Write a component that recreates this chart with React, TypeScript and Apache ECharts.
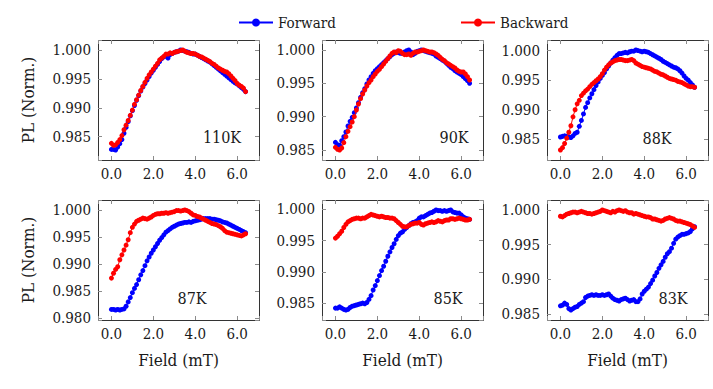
import React, { useEffect, useRef } from "react";
import * as echarts from "echarts";

// ---------- data ----------
const FIELD = [
  0.0, 0.1, 0.2, 0.3, 0.4, 0.5, 0.6, 0.7, 0.8, 0.9, 1.0, 1.1, 1.2, 1.3, 1.4, 1.5,
  1.6, 1.7, 1.8, 1.9, 2.0, 2.1, 2.2, 2.3, 2.4, 2.5, 2.6, 2.7, 2.8, 2.9, 3.0, 3.1,
  3.2, 3.3, 3.4, 3.5, 3.6, 3.7, 3.8, 3.9, 4.0, 4.1, 4.2, 4.3, 4.4, 4.5, 4.6, 4.7,
  4.8, 4.9, 5.0, 5.1, 5.2, 5.3, 5.4, 5.5, 5.6, 5.7, 5.8, 5.9, 6.0, 6.1, 6.2, 6.3, 6.4,
];

const FWD_110K = [
  0.9828, 0.9828, 0.9827, 0.9832, 0.9838, 0.9845, 0.9856, 0.9866, 0.9876, 0.9886, 0.9895, 0.9904, 0.9913,
  0.9921, 0.9929, 0.9936, 0.9942, 0.9948, 0.9954, 0.996, 0.9965, 0.997, 0.9975, 0.998, 0.9985, 0.9988,
  0.999, 0.9986, 0.9992, 0.9994, 0.9996, 0.9997, 0.9998, 1.0, 0.9999, 0.9998, 0.9997, 0.9996, 0.9994,
  0.9993, 0.9993, 0.9991, 0.9989, 0.9987, 0.9985, 0.9983, 0.9981, 0.9979, 0.9976, 0.9973, 0.997, 0.9967,
  0.9964, 0.9961, 0.9958, 0.9955, 0.9952, 0.9949, 0.9946, 0.9943, 0.9941, 0.9938, 0.9935, 0.9932, 0.9928,
];
const BWD_110K = [
  0.98386, 0.9835, 0.9836, 0.984, 0.9845, 0.9852, 0.9862, 0.987, 0.9878, 0.9887, 0.9896, 0.9906, 0.9914,
  0.9922, 0.993, 0.9937, 0.9944, 0.9951, 0.9957, 0.9962, 0.9967, 0.9972, 0.9977, 0.9983, 0.9986, 0.9989,
  0.9993, 0.9993, 0.9995, 0.9994, 0.9996, 0.9997, 0.9998, 0.9999, 1.0, 0.9998, 0.9996, 0.9995, 0.9994,
  0.9994, 0.9993, 0.9991, 0.9989, 0.9988, 0.9986, 0.9984, 0.9982, 0.998, 0.9977, 0.9975, 0.9972, 0.9969,
  0.9967, 0.9965, 0.9963, 0.9962, 0.9959, 0.9955, 0.9951, 0.9947, 0.9942, 0.9939, 0.9937, 0.9934, 0.9928,
];

const FWD_90K = [
  0.98615, 0.9858, 0.9857, 0.9864, 0.987, 0.9877, 0.9886, 0.9893, 0.9899, 0.9906, 0.9913, 0.9921, 0.9929,
  0.9936, 0.9942, 0.9949, 0.9955, 0.996, 0.9965, 0.9969, 0.9972, 0.9975, 0.9978, 0.9981, 0.9984, 0.9987,
  0.999, 0.9993, 0.9995, 0.9997, 0.9996, 0.9995, 0.9995, 0.9997, 0.9999, 1.0, 0.9997, 0.9993, 0.9995,
  0.9998, 0.9999, 1.0, 0.9999, 0.9998, 0.9997, 0.9996, 0.9995, 0.9994, 0.9991, 0.9989, 0.9987, 0.9985,
  0.9983, 0.998, 0.9977, 0.9974, 0.9972, 0.9969, 0.9967, 0.9965, 0.9963, 0.996, 0.9957, 0.9954, 0.995,
];
const BWD_90K = [
  0.9854, 0.9851, 0.985, 0.9853, 0.9861, 0.987, 0.9878, 0.9885, 0.9892, 0.99, 0.991, 0.9919, 0.9927,
  0.9934, 0.994, 0.9946, 0.9951, 0.9955, 0.996, 0.9964, 0.9968, 0.9971, 0.9975, 0.9979, 0.9983, 0.9987,
  0.9991, 0.9995, 0.9997, 0.9996, 0.9999, 0.9998, 0.9995, 0.9993, 0.9993, 0.9994, 0.9992, 0.9995, 0.9997,
  0.9997, 0.9998, 0.9999, 1.0, 0.9999, 0.9998, 0.9997, 0.9997, 0.9996, 0.9994, 0.9992, 0.9989, 0.9986,
  0.9984, 0.9981, 0.9979, 0.9977, 0.9975, 0.9973, 0.997, 0.9968, 0.9967, 0.9967, 0.9964, 0.996, 0.9955,
];

const FWD_88K = [
  0.9854, 0.9855, 0.9856, 0.9855, 0.9854, 0.9853, 0.9856, 0.986, 0.9862, 0.9872, 0.9882, 0.9893, 0.9904,
  0.9912, 0.992, 0.9927, 0.9934, 0.9941, 0.9947, 0.9953, 0.9958, 0.9963, 0.9969, 0.9974, 0.9979, 0.9984,
  0.9988, 0.9992, 0.9995, 0.9995, 0.9996, 0.9997, 0.9996, 0.9998, 0.9999, 0.9999, 1.0001, 1.0, 0.9999,
  0.9998, 0.9999, 0.9998, 0.9997, 0.9995, 0.9993, 0.9991, 0.9989, 0.9987, 0.9985, 0.9982, 0.998, 0.9978,
  0.9976, 0.9974, 0.9972, 0.9971, 0.9969, 0.9966, 0.9962, 0.9957, 0.9953, 0.995, 0.9946, 0.9942, 0.9938,
];
const BWD_88K = [
  0.9832, 0.9836, 0.9843, 0.9852, 0.9862, 0.9873, 0.9888, 0.99, 0.991, 0.9916, 0.9924, 0.9928, 0.9932,
  0.9935, 0.9939, 0.9943, 0.9946, 0.9949, 0.9952, 0.9956, 0.9961, 0.9967, 0.9972, 0.9976, 0.9979, 0.9981,
  0.9983, 0.9984, 0.9985, 0.9985, 0.9984, 0.9983, 0.9983, 0.9984, 0.9985, 0.9983, 0.9979, 0.9977, 0.9975,
  0.9973, 0.9972, 0.9971, 0.997, 0.9969, 0.9967, 0.9965, 0.9964, 0.9962, 0.996, 0.9959, 0.9957, 0.9955,
  0.9953, 0.9952, 0.9951, 0.995, 0.9948, 0.9947, 0.9946, 0.9944, 0.9942, 0.994, 0.9939, 0.9939, 0.9938,
];

const FWD_87K = [
  0.9816, 0.9816, 0.9815, 0.9816, 0.9815, 0.9816, 0.9817, 0.9822, 0.983, 0.9838, 0.9847, 0.9855, 0.9862,
  0.9871, 0.988, 0.9888, 0.9897, 0.9906, 0.9913, 0.992, 0.9926, 0.9932, 0.9938, 0.9944, 0.9949, 0.9954,
  0.9959, 0.9962, 0.9965, 0.9968, 0.997, 0.9972, 0.9974, 0.9975, 0.9976, 0.9977, 0.9977, 0.9978, 0.9977,
  0.9979, 0.998, 0.9981, 0.9982, 0.9983, 0.9984, 0.9984, 0.9984, 0.9984, 0.9983, 0.9983, 0.9982, 0.9981,
  0.998, 0.9978, 0.9977, 0.9976, 0.9974, 0.9972, 0.997, 0.9968, 0.9966, 0.9964, 0.9962, 0.996, 0.9958,
];
const BWD_87K = [
  0.9874, 0.9883, 0.989, 0.9895, 0.9908, 0.9917, 0.9926, 0.9935, 0.9945, 0.9958, 0.9968, 0.9974, 0.9979,
  0.9981, 0.9983, 0.9985, 0.9984, 0.9983, 0.9985, 0.9987, 0.999, 0.9992, 0.9993, 0.9993, 0.9994, 0.9994,
  0.9995, 0.9994, 0.9995, 0.9996, 0.9997, 0.9999, 0.9999, 0.9998, 0.9999, 1.0, 0.9999, 0.9997, 0.9994,
  0.9991, 0.999, 0.9988, 0.9987, 0.9985, 0.9983, 0.9981, 0.9979, 0.9977, 0.9975, 0.9974, 0.9973, 0.9971,
  0.9969, 0.9966, 0.9962, 0.9959, 0.9958, 0.9957, 0.9956, 0.9955, 0.9954, 0.9953, 0.9952, 0.9954, 0.9956,
];

const FWD_85K = [
  0.9842, 0.9842, 0.9844, 0.9842, 0.984, 0.9839, 0.984, 0.9843, 0.9845, 0.9846, 0.9847, 0.9848, 0.9849,
  0.985, 0.9849, 0.9851, 0.9856, 0.9862, 0.9871, 0.9878, 0.9886, 0.9894, 0.9902, 0.9909, 0.9917, 0.9925,
  0.9932, 0.9939, 0.9945, 0.9952, 0.9958, 0.9962, 0.9964, 0.9968, 0.9971, 0.9974, 0.9977, 0.9979, 0.998,
  0.9982, 0.9986, 0.9988, 0.9988, 0.999, 0.9992, 0.9994, 0.9995, 0.9997, 0.9999, 0.9998, 0.9998, 0.9997,
  0.9998, 0.9997, 0.9998, 0.9999, 0.9996, 0.9995, 0.9994, 0.9994, 0.9991, 0.9988, 0.9986, 0.9985, 0.9984,
];
const BWD_85K = [
  0.9954, 0.9957, 0.9961, 0.9965, 0.9971, 0.9976, 0.998, 0.9982, 0.9984, 0.9985, 0.9986, 0.9986, 0.9985,
  0.9986, 0.9986, 0.9988, 0.999, 0.9992, 0.9991, 0.999, 0.9989, 0.9988, 0.9989, 0.9988, 0.9987, 0.9987,
  0.9986, 0.9986, 0.9985, 0.9982, 0.9979, 0.9976, 0.9973, 0.9972, 0.9972, 0.9974, 0.9976, 0.9977, 0.9978,
  0.9978, 0.9979, 0.9976, 0.9975, 0.9977, 0.9978, 0.9979, 0.998, 0.9979, 0.998, 0.9982, 0.9981, 0.998,
  0.9982, 0.9983, 0.9983, 0.9985, 0.9985, 0.9984, 0.9985, 0.9986, 0.9985, 0.9984, 0.9983, 0.9983, 0.9984,
];

const FWD_83K = [
  0.9862, 0.9863, 0.9866, 0.9864, 0.9858, 0.9856, 0.9858, 0.986, 0.9861, 0.9864, 0.9866, 0.9868, 0.9874,
  0.9876, 0.9877, 0.9878, 0.9877, 0.9878, 0.9877, 0.9877, 0.9878, 0.9877, 0.9878, 0.9879, 0.9876, 0.9873,
  0.9871, 0.987, 0.9869, 0.9871, 0.9872, 0.9873, 0.9871, 0.9869, 0.987, 0.9871, 0.9868, 0.9868, 0.9872,
  0.9879, 0.9883, 0.9886, 0.9889, 0.9894, 0.9899, 0.9905, 0.991, 0.9916, 0.9921, 0.9926, 0.9932, 0.9937,
  0.994, 0.9945, 0.9952, 0.9958, 0.9961, 0.9963, 0.9965, 0.9965, 0.9966, 0.9967, 0.9969, 0.9973, 0.9976,
];
const BWD_83K = [
  0.9991, 0.999, 0.9992, 0.9994, 0.9995, 0.9996, 0.9997, 0.9997, 0.9996, 0.9997, 0.9998, 0.9997, 0.9996,
  0.9995, 0.9995, 0.9994, 0.9995, 0.9996, 0.9997, 0.9998, 1.0, 0.9999, 0.9998, 0.9997, 0.9996, 0.9998,
  0.9997, 0.9999, 1.0, 0.9999, 0.9998, 0.9999, 0.9997, 0.9996, 0.9996, 0.9994, 0.9995, 0.9994, 0.9993,
  0.9992, 0.9991, 0.999, 0.999, 0.9989, 0.9987, 0.9987, 0.9986, 0.9985, 0.9984, 0.9985, 0.9987, 0.9988,
  0.9989, 0.9988, 0.9987, 0.9985, 0.9984, 0.9984, 0.9983, 0.9982, 0.9981, 0.998, 0.9979, 0.9977, 0.9975,
];

const PANEL_LABELS = ["110K", "90K", "88K", "87K", "85K", "83K"];
const FORWARD = [FWD_110K, FWD_90K, FWD_88K, FWD_87K, FWD_85K, FWD_83K];
const BACKWARD = [BWD_110K, BWD_90K, BWD_88K, BWD_87K, BWD_85K, BWD_83K];
const SERIES_NAMES = ["Forward", "Backward"];
const X_NAME = "Field (mT)";
const Y_NAME = "PL (Norm.)";

// ---------- layout / style ----------
const FONT = "DejaVu Serif Condensed, DejaVu Serif";
const TEXT = "#1a1a1a";
const FRAME = "#333333";
const BLUE = "#0000ff";
const RED = "#ff0000";
const COL_LEFT = [98, 322, 547];
const ROW_TOP = [40, 200];
const GRID_W = 161;
const GRID_H = 120;
const LABEL_OFFSET = [
  [-37, -23], [-29, -23], [-51, -22],
  [-67, -22], [-35, -22], [-35, -22],
];

function padded(vals: number[]): [number, number] {
  let lo = Infinity, hi = -Infinity;
  vals.forEach((v) => { if (v < lo) lo = v; if (v > hi) hi = v; });
  const d = (hi - lo) * 0.1;
  return [lo - d, hi + d];
}

function fmtY(v: number) {
  const k = v / 0.005;
  return Math.abs(k - Math.round(k)) < 1e-6 ? v.toFixed(3) : "";
}
function fmtX(v: number) {
  const k = v / 2;
  return Math.abs(k - Math.round(k)) < 1e-6 ? v.toFixed(1) : "";
}

export default function App() {
  const ref = useRef<HTMLDivElement>(null);
  useEffect(() => {
    if (!ref.current) return;
    const chart = echarts.init(ref.current, null, { renderer: "svg" });
    const [xMin, xMax] = padded(FIELD);

    const grid: any[] = [];
    const xAxis: any[] = [];
    const yAxis: any[] = [];
    const series: any[] = [];
    const graphic: any[] = [];
    const tickStyle = { show: true, inside: true, length: 4, lineStyle: { color: "#8c8c8c", width: 1 } };

    for (let p = 0; p < 6; p++) {
      const r = Math.floor(p / 3), c = p % 3;
      grid.push({ left: COL_LEFT[c], top: ROW_TOP[r], width: GRID_W, height: GRID_H });
      const [yMin, yMax] = padded([...FORWARD[p], ...BACKWARD[p]]);
      const xBase = {
        type: "value", gridIndex: p, min: xMin, max: xMax,
        minInterval: 2, maxInterval: 2, splitLine: { show: false },
        axisLine: { show: false, onZero: false },
      };
      const yBase = {
        type: "value", gridIndex: p, min: yMin, max: yMax,
        minInterval: 0.005, maxInterval: 0.005, splitLine: { show: false },
        axisLine: { show: false, onZero: false },
      };
      xAxis[p] = {
        ...xBase, position: "bottom", axisTick: tickStyle,
        axisLabel: { formatter: fmtX, margin: 6, fontFamily: FONT, fontSize: 15, color: TEXT, hideOverlap: false },
        ...(r === 1 ? {
          name: X_NAME, nameLocation: "middle", nameGap: 31,
          nameTextStyle: { fontFamily: FONT, fontSize: 17, color: TEXT },
        } : {}),
      };
      xAxis[p + 6] = { ...xBase, position: "top", axisTick: tickStyle, axisLabel: { show: false } };
      yAxis[p] = {
        ...yBase, position: "left", axisTick: tickStyle,
        axisLabel: { formatter: fmtY, margin: 7, fontFamily: FONT, fontSize: 15, color: TEXT, hideOverlap: false },
        ...(c === 0 ? {
          name: Y_NAME, nameLocation: "middle", nameGap: 62,
          nameTextStyle: { fontFamily: FONT, fontSize: 17, color: TEXT },
        } : {}),
      };
      yAxis[p + 6] = { ...yBase, position: "right", axisTick: tickStyle, axisLabel: { show: false } };

      [FORWARD[p], BACKWARD[p]].forEach((vals, i) => {
        series.push({
          name: SERIES_NAMES[i], type: "line", xAxisIndex: p, yAxisIndex: p,
          data: FIELD.map((f, k) => [f, vals[k]]),
          symbol: "circle", symbolSize: 5, showSymbol: true,
          itemStyle: { color: i === 0 ? BLUE : RED },
          lineStyle: { color: i === 0 ? BLUE : RED, width: 1 },
          z: 2 + i,
        });
      });

      graphic.push({
        type: "text",
        x: COL_LEFT[c] + GRID_W + LABEL_OFFSET[p][0],
        y: ROW_TOP[r] + GRID_H + LABEL_OFFSET[p][1],
        style: {
          text: PANEL_LABELS[p], fontFamily: FONT, fontSize: 16, fill: TEXT,
          textAlign: "center", textVerticalAlign: "middle",
        },
      });
      graphic.push({
        type: "rect",
        shape: { x: COL_LEFT[c] + 0.5, y: ROW_TOP[r] + 0.5, width: GRID_W, height: GRID_H },
        style: { fill: "none", stroke: FRAME, lineWidth: 1 },
        silent: true,
      });
    }

    const legendBase = {
      orient: "horizontal", itemWidth: 34, itemHeight: 10, itemGap: 10,
      textStyle: { fontFamily: FONT, fontSize: 15, color: TEXT },
      top: 10,
    };

    chart.setOption({
      animation: false,
      backgroundColor: "#ffffff",
      textStyle: { fontFamily: FONT },
      legend: [
        { ...legendBase, data: [SERIES_NAMES[0]], left: 233 },
        { ...legendBase, data: [SERIES_NAMES[1]], left: 455 },
      ],
      grid, xAxis, yAxis, series, graphic,
    });
    return () => chart.dispose();
  }, []);

  return (
    <div
      ref={ref}
      style={{ position: "fixed", left: 0, top: 0, width: 713, height: 389, background: "#fff" }}
    />
  );
}
